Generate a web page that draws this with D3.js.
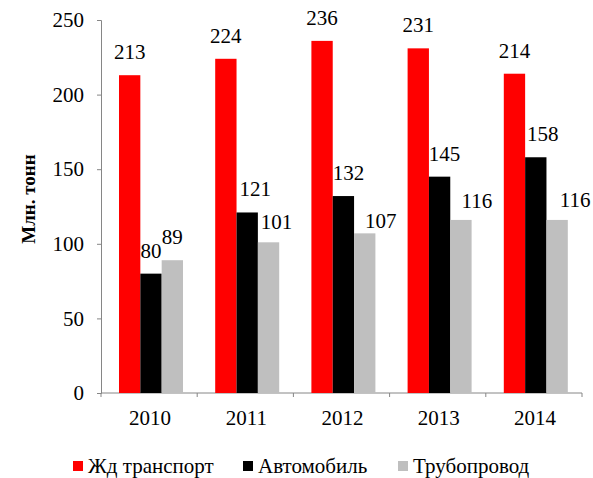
<!DOCTYPE html>
<html>
<head>
<meta charset="utf-8">
<script src="https://cdn.jsdelivr.net/npm/d3@7"></script>
<style>
  body { margin: 0; background: #fff; }
  svg text { font-family: "Liberation Serif", "DejaVu Serif", serif !important; fill: #000; }
</style>
</head>
<body>
<div id="target"></div>
<script>
const years = ["2010", "2011", "2012", "2013", "2014"];
const seriesNames = ["Жд транспорт", "Автомобиль", "Трубопровод"];
const rail = [213, 224, 236, 231, 214];
const auto = [80, 121, 132, 145, 158];
const pipe = [89, 101, 107, 116, 116];
const yTicks = [0, 50, 100, 150, 200, 250];

// hand nudges for value labels, like the original chart
const labelNudge = {
  "1-2011": [8, 0], "2-2011": [8, 3],
  "1-2012": [5, 0], "2-2012": [16, 11],
  "1-2013": [5, 0], "2-2013": [16, 4],
  "1-2014": [7, 0], "2-2014": [18, 3]
};

function bar() {
  const width = 593,
    height = 478,
    left = 101,
    right = 582,
    top = 20,
    bottom = 393;
  const colors = ["#ff0000", "#000000", "#bfbfbf"];
  const axisColor = "#868686";
  const values = [rail, auto, pipe];

  let svg = d3.select("#target").append("svg")
    .attr("width", width)
    .attr("height", height);

  let x = d3.scaleBand()
    .domain(years)
    .range([left, right]);
  let x1 = d3.scaleBand()
    .domain([0, 1, 2])
    .range([18, 82]);
  let y = d3.scaleLinear()
    .domain([0, 250])
    .range([bottom, top]);

  // y axis
  let yAxis = svg.append("g")
    .attr("transform", `translate(${left},0)`)
    .call(d3.axisLeft(y).tickValues(yTicks).tickSize(4).tickPadding(13));
  yAxis.attr("font-family", null).attr("font-size", null);
  yAxis.selectAll("path, line").attr("stroke", axisColor);
  yAxis.selectAll("text")
    .style("font-size", "21px");

  // x axis with ticks at band edges
  let xg = svg.append("g")
    .attr("transform", `translate(0,${bottom})`);
  xg.append("line")
    .attr("x1", left).attr("x2", right)
    .attr("stroke", axisColor);
  xg.selectAll(".tk")
    .data(years.concat(["end"]))
    .enter().append("line")
    .attr("x1", (d, i) => i < years.length ? x(d) : right)
    .attr("x2", (d, i) => i < years.length ? x(d) : right)
    .attr("y1", 0).attr("y2", 4)
    .attr("stroke", axisColor);
  xg.selectAll(".lbl")
    .data(years)
    .enter().append("text")
    .attr("x", (d) => x(d) + x.bandwidth() / 2 + 1)
    .attr("y", 32)
    .attr("text-anchor", "middle")
    .style("font-size", "21px")
    .text((d) => d);

  // bars
  values.forEach((vals, s) => {
    svg.append("g").selectAll("rect")
      .data(vals)
      .enter().append("rect")
      .attr("x", (d, i) => x(years[i]) + x1(s))
      .attr("width", x1.bandwidth())
      .attr("y", (d) => y(d))
      .attr("height", (d) => bottom - y(d))
      .attr("fill", colors[s]);
    svg.append("g").selectAll("text")
      .data(vals)
      .enter().append("text")
      .attr("x", (d, i) => {
        const n = labelNudge[s + "-" + years[i]] || [0, 0];
        return x(years[i]) + x1(s) + x1.bandwidth() / 2 + n[0];
      })
      .attr("y", (d, i) => {
        const n = labelNudge[s + "-" + years[i]] || [0, 0];
        return y(d) - 16 + n[1];
      })
      .attr("text-anchor", "middle")
      .style("font-size", "21px")
      .text((d) => d);
  });

  // y title
  svg.append("text")
    .attr("transform", "translate(35,199) rotate(-90)")
    .attr("text-anchor", "middle")
    .style("font-size", "19px")
    .style("font-weight", "bold")
    .text("Млн. тонн");

  // legend
  const legendX = [73, 243, 398];
  let lg = svg.append("g").selectAll("g")
    .data(seriesNames)
    .enter().append("g")
    .attr("transform", (d, i) => `translate(${legendX[i]},461)`);
  lg.append("rect")
    .attr("width", 10).attr("height", 10)
    .attr("fill", (d, i) => colors[i]);
  lg.append("text")
    .attr("x", 15)
    .attr("y", 12)
    .style("font-size", "21px")
    .text((d) => d);
}
bar();
</script>
</body>
</html>
